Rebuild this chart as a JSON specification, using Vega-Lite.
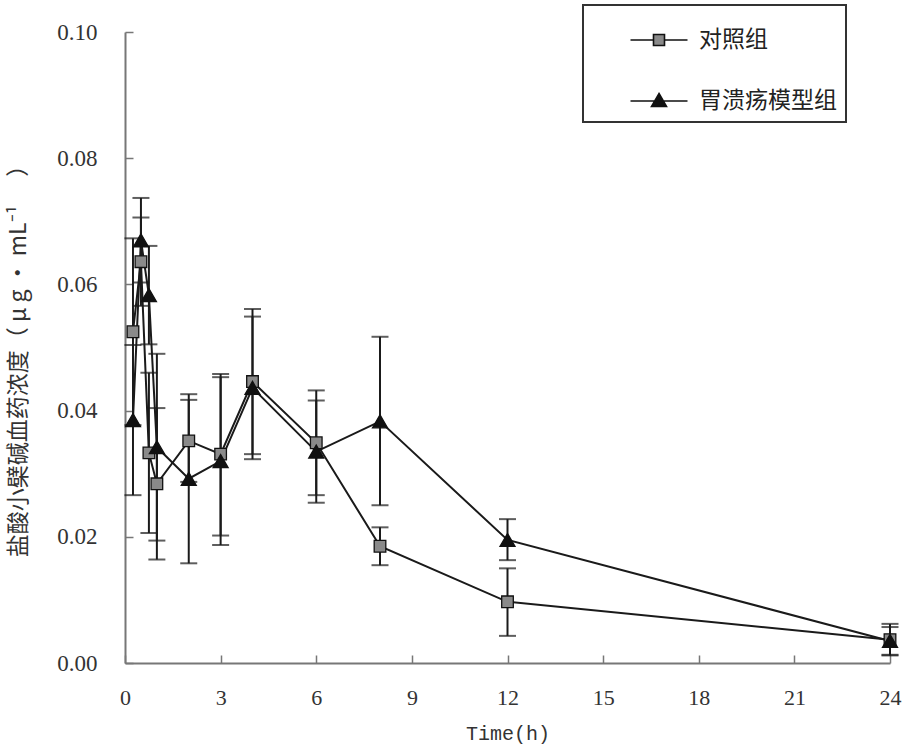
{
  "$schema": "https://vega.github.io/schema/vega-lite/v6.json",
  "autosize": {"type": "none"},
  "width": 765,
  "height": 631,
  "padding": {"left": 125, "top": 32, "right": 16, "bottom": 86},
  "background": "white",
  "config": {
    "view": {"stroke": null},
    "axis": {
      "grid": false,
      "domainColor": "#777777",
      "domainWidth": 2,
      "tickColor": "#777777",
      "tickWidth": 1.5,
      "labelColor": "#333333",
      "labelFont": "Liberation Serif",
      "labelFontSize": 22,
      "labelFlush": false,
      "titleColor": "#333333",
      "titleFontWeight": "normal"
    },
    "legend": {
      "orient": "none",
      "legendX": 458,
      "legendY": -27,
      "padding": 9,
      "strokeColor": "#333333",
      "strokeWidth": 2,
      "fillColor": "white",
      "symbolSize": 2500,
      "symbolOpacity": 1,
      "rowPadding": 23,
      "symbolOffset": 41,
      "labelOffset": 14,
      "labelFont": "Noto Sans CJK SC",
      "labelFontSize": 23,
      "labelColor": "#222222",
      "symbolStrokeColor": "#111111",
      "symbolStrokeWidth": 1.6
    }
  },
  "data": {
    "values": [
      {"group": "对照组", "t": 0.25, "mean": 0.0525, "lo": 0.0377, "hi": 0.0673},
      {"group": "对照组", "t": 0.5, "mean": 0.0636, "lo": 0.0566, "hi": 0.0706},
      {"group": "对照组", "t": 0.75, "mean": 0.0333, "lo": 0.0206, "hi": 0.046},
      {"group": "对照组", "t": 1, "mean": 0.0284, "lo": 0.0164, "hi": 0.0404},
      {"group": "对照组", "t": 2, "mean": 0.0352, "lo": 0.0287, "hi": 0.0417},
      {"group": "对照组", "t": 3, "mean": 0.0331, "lo": 0.0202, "hi": 0.0458},
      {"group": "对照组", "t": 4, "mean": 0.0446, "lo": 0.0331, "hi": 0.0561},
      {"group": "对照组", "t": 6, "mean": 0.0349, "lo": 0.0266, "hi": 0.0432},
      {"group": "对照组", "t": 8, "mean": 0.0185, "lo": 0.0155, "hi": 0.0215},
      {"group": "对照组", "t": 12, "mean": 0.0097, "lo": 0.0043, "hi": 0.015},
      {"group": "对照组", "t": 24, "mean": 0.0037, "lo": 0.0012, "hi": 0.0062},
      {"group": "胃溃疡模型组", "t": 0.25, "mean": 0.0385, "lo": 0.0266, "hi": 0.0504},
      {"group": "胃溃疡模型组", "t": 0.5, "mean": 0.067, "lo": 0.0603, "hi": 0.0737},
      {"group": "胃溃疡模型组", "t": 0.75, "mean": 0.0583, "lo": 0.0505, "hi": 0.0661},
      {"group": "胃溃疡模型组", "t": 1, "mean": 0.0342, "lo": 0.0194, "hi": 0.049},
      {"group": "胃溃疡模型组", "t": 2, "mean": 0.0292, "lo": 0.0158, "hi": 0.0426},
      {"group": "胃溃疡模型组", "t": 3, "mean": 0.032, "lo": 0.0187, "hi": 0.0453},
      {"group": "胃溃疡模型组", "t": 4, "mean": 0.0436, "lo": 0.0323, "hi": 0.0549},
      {"group": "胃溃疡模型组", "t": 6, "mean": 0.0335, "lo": 0.0254, "hi": 0.0416},
      {"group": "胃溃疡模型组", "t": 8, "mean": 0.0383, "lo": 0.025, "hi": 0.0517},
      {"group": "胃溃疡模型组", "t": 12, "mean": 0.0195, "lo": 0.0163, "hi": 0.0228},
      {"group": "胃溃疡模型组", "t": 24, "mean": 0.0035, "lo": 0.0013, "hi": 0.0057}
    ]
  },
  "resolve": {"axis": {"x": "independent", "y": "independent"}},
  "layer": [
    {
      "mark": {"type": "errorbar", "ticks": true, "size": 17, "thickness": 2, "color": "#1a1a1a"},
      "encoding": {
        "x": {"field": "t", "type": "quantitative", "axis": null},
        "y": {"field": "lo", "type": "quantitative", "axis": null},
        "y2": {"field": "hi"},
        "detail": {"field": "group"}
      }
    },
    {
      "mark": {"type": "line", "color": "#1a1a1a", "strokeWidth": 2},
      "encoding": {
        "x": {
          "field": "t", "type": "quantitative",
          "axis": {
            "orient": "top", "offset": -631, "values": [0, 3, 6, 9, 12, 15, 18, 21, 24],
            "domain": false, "labels": false, "title": null, "ticks": true, "tickSize": 8
          }
        },
        "y": {
          "field": "mean", "type": "quantitative",
          "axis": {
            "orient": "right", "offset": -765, "values": [0, 0.02, 0.04, 0.06, 0.08, 0.1],
            "domain": false, "labels": false, "title": null, "ticks": true, "tickSize": 8
          }
        },
        "detail": {"field": "group"}
      }
    },
    {
      "transform": [{"filter": "datum.group === '对照组'"}],
      "mark": {"type": "point", "shape": "square", "size": 135, "filled": true, "fill": "#8a8a8a", "opacity": 1, "stroke": "#111111", "strokeWidth": 1.3},
      "encoding": {
        "x": {
          "field": "t", "type": "quantitative",
          "scale": {"domain": [0, 24], "nice": false, "zero": true},
          "axis": {
            "orient": "bottom",
            "values": [0, 3, 6, 9, 12, 15, 18, 21, 24],
            "ticks": false,
            "tickSize": 0,
            "labelFontSize": 22,
            "title": "Time(h)",
            "titleFont": "Liberation Mono",
            "titleFontSize": 20,
            "titlePadding": 15,
            "labelPadding": 24
          }
        },
        "y": {
          "field": "mean", "type": "quantitative",
          "scale": {"domain": [0, 0.1], "nice": false},
          "axis": {
            "orient": "left",
            "values": [0, 0.02, 0.04, 0.06, 0.08, 0.1],
            "format": ".2f",
            "ticks": false,
            "tickSize": 0,
            "labelFontSize": 23,
            "title": "盐酸小檗碱血药浓度（ μ g · mL⁻¹ 　）",
            "titleFont": "Noto Sans CJK SC",
            "titleFontSize": 23,
            "titlePadding": 26,
            "titleY": 323,
            "labelPadding": 28
          }
        }
      }
    },
    {
      "transform": [{"filter": "datum.group === '胃溃疡模型组'"}],
      "mark": {"type": "point", "shape": "triangle-up", "size": 225, "filled": true, "fill": "#111111", "opacity": 1, "stroke": "#111111", "strokeWidth": 1.3},
      "encoding": {
        "x": {"field": "t", "type": "quantitative", "axis": null},
        "y": {"field": "mean", "type": "quantitative", "axis": null}
      }
    },
    {
      "transform": [{"filter": "false"}],
      "mark": {"type": "point", "filled": true, "strokeWidth": 1.6},
      "encoding": {
        "x": {"field": "t", "type": "quantitative", "axis": null},
        "y": {"field": "mean", "type": "quantitative", "axis": null},
        "shape": {
          "field": "group", "type": "nominal",
          "scale": {
            "domain": ["对照组", "胃溃疡模型组"],
            "range": ["M-1.14,0H-0.22M0.22,0H1.14M-0.22,-0.22H0.22V0.22H-0.22Z", "M-1.14,0H1.14M0,-0.3L0.3,0.22H-0.3Z"]
          },
          "legend": {"title": null}
        },
        "fill": {
          "field": "group", "type": "nominal",
          "scale": {"domain": ["对照组", "胃溃疡模型组"], "range": ["#8a8a8a", "#111111"]},
          "legend": {"title": null}
        },
        "stroke": {
          "field": "group", "type": "nominal",
          "scale": {"domain": ["对照组", "胃溃疡模型组"], "range": ["#111111", "#111111"]},
          "legend": {"title": null}
        }
      }
    }
  ]
}
